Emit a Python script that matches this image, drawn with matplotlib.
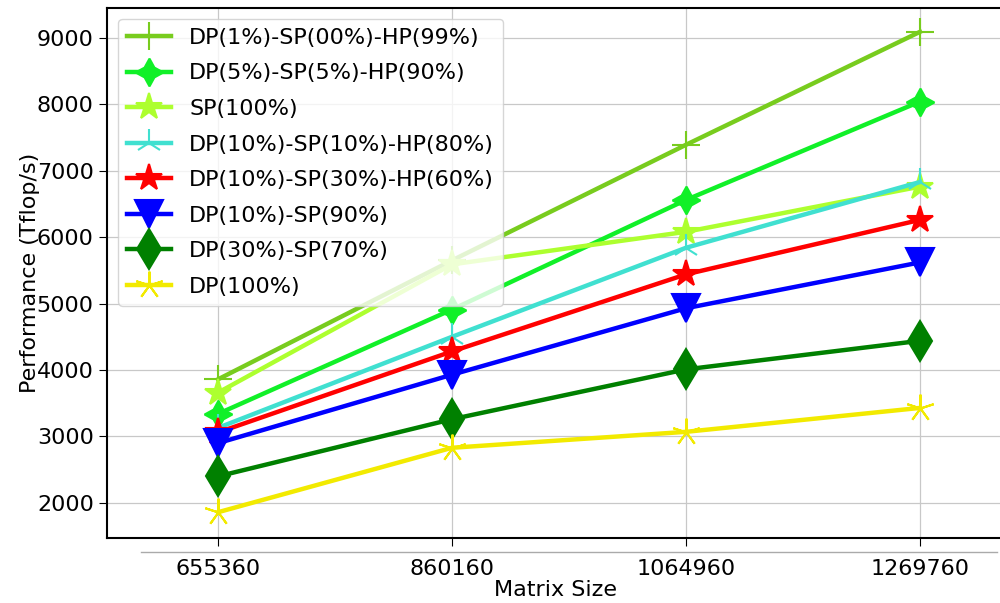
import matplotlib.pyplot as plt
from matplotlib.lines import Line2D

sizes = [655360, 860160, 1064960, 1269760]

dp1_sp0_hp99 = [3860, 5650, 7390, 9090]
dp5_sp5_hp90 = [3340, 4910, 6560, 8040]
sp100 = [3660, 5590, 6080, 6760]
dp10_sp10_hp80 = [3130, 4500, 5840, 6830]
dp10_sp30_hp60 = [3060, 4280, 5440, 6260]
dp10_sp90 = [2900, 3930, 4930, 5620]
dp30_sp70 = [2400, 3260, 4010, 4440]
dp100 = [1860, 2830, 3070, 3430]

series = [
    ("DP(1%)-SP(00%)-HP(99%)", dp1_sp0_hp99, "#78cc1e", "+"),
    ("DP(5%)-SP(5%)-HP(90%)", dp5_sp5_hp90, "#11f028", (4, 1, 0)),
    ("SP(100%)", sp100, "#adff2f", "*"),
    ("DP(10%)-SP(10%)-HP(80%)", dp10_sp10_hp80, "#40e0d0", "2"),
    ("DP(10%)-SP(30%)-HP(60%)", dp10_sp30_hp60, "red", "*"),
    ("DP(10%)-SP(90%)", dp10_sp90, "blue", "v"),
    ("DP(30%)-SP(70%)", dp30_sp70, "green", "d"),
    ("DP(100%)", dp100, "#f2ea00", (5, 2, 0)),
]

fig = plt.figure(figsize=(10, 6.03), dpi=100)
ax = fig.add_axes([0.107, 0.108, 0.896, 0.879])

for label, vals, color, marker in series:
    ax.plot(sizes, vals, color=color, marker=marker, markersize=20,
            linewidth=3.2, markeredgewidth=1.5, label=label)

ax.set_xlim(558200, 1342400)
ax.set_ylim(1474, 9451)
ax.set_xticks(sizes)
ax.set_xticklabels([str(s) for s in sizes])
ax.set_yticks([2000, 3000, 4000, 5000, 6000, 7000, 8000, 9000])
ax.tick_params(labelsize=16, length=6)
ax.tick_params(axis="x", pad=9)
ax.set_xlabel("Matrix Size", fontsize=16, labelpad=1)
ax.set_ylabel("Performance (Tflop/s)", fontsize=16, labelpad=-2)
ax.grid(True, color="#c8c8c8", linewidth=0.9)
ax.spines["right"].set_visible(False)
for s in ["top", "bottom", "left"]:
    ax.spines[s].set_linewidth(1.5)

ax.legend(loc="upper left", fontsize=16, borderaxespad=0.5, labelspacing=0.7)

# stray gray rule under the axis, as in the original figure
fig.add_artist(Line2D([0.141, 0.997], [1 - 552 / 603] * 2, color="#aaaaaa", linewidth=1))

plt.savefig("out.png")
